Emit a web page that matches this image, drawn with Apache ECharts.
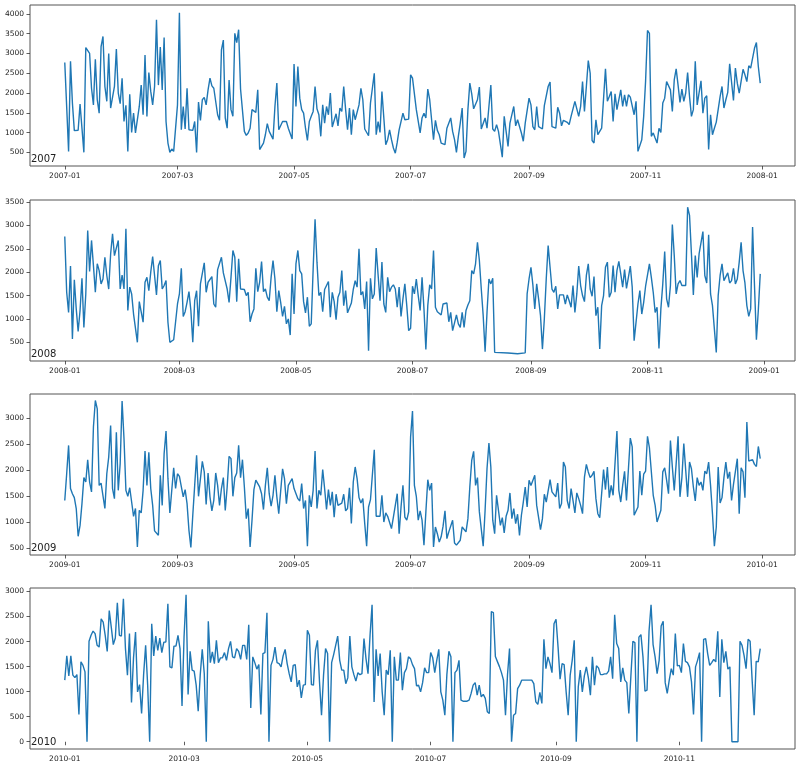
<!DOCTYPE html>
<html><head><meta charset="utf-8">
<script src="https://cdn.jsdelivr.net/npm/echarts@6/dist/echarts.min.js"></script>
<style>html,body{margin:0;padding:0;background:#fff}#c{width:800px;height:768px}</style>
</head><body><div id="c"></div>
<script>
const years = [2007, 2008, 2009, 2010];

const values2007 = [
2770,1650,525,2800,1745,1050,1050,1060,1720,1730,
500,3150,3190,3000,2120,1700,2850,1830,1490,3170,
3430,2165,1790,3000,1620,1635,2165,3110,2000,1730,
2375,1280,1690,525,1970,1005,1490,990,1005,1660,
2200,1450,2960,1410,2520,2040,1700,2165,3850,2200,
3160,2080,3400,1280,735,500,585,525,530,1700,
4030,1070,1660,1090,2120,1070,1070,1055,1280,500,
1770,1310,1830,1890,1700,2080,2375,2180,2120,2150,
1450,1310,3090,3340,1370,1110,2330,1580,1410,3510,
3275,3600,2100,2065,1030,930,990,1110,1580,1535,
1510,2080,570,570,735,945,1225,1030,1030,835,
1660,2250,1070,1050,1280,1280,1280,1110,1110,835,
2730,1660,2670,1870,1580,1490,1110,800,1280,1410,
1535,2165,1600,1450,905,1700,1240,1660,1450,2000,
1140,1140,1475,1170,1620,1535,2165,1580,1070,1620,
945,1580,1325,1280,1700,2120,1830,1090,1090,920,
1745,2120,2500,945,1280,1005,2040,2000,695,820,
1070,820,610,480,750,1070,1030,1490,1325,1325,
1340,2460,2375,2375,1580,1620,990,1370,1490,1370,
2100,1830,1790,820,1310,1055,945,735,735,695,
1110,1110,1370,1030,820,500,905,1240,1620,355,
525,1580,2250,1980,1600,1580,1830,2150,1090,1110,
1370,1110,1660,2200,1090,1030,1200,1030,1030,380,
1410,1370,650,1240,1200,1660,1170,1325,1280,990,
780,1240,1280,1870,1700,1150,1070,1660,1150,1170,
1090,1680,1700,2165,2275,1150,1140,1110,1640,1490,
1170,1310,1280,1260,1200,1410,1370,1790,1830,1410,
1660,2290,1535,2165,2820,2500,800,735,1325,945,
1030,1110,1150,2610,1790,1910,2040,1280,1980,1580,
1535,2080,1660,1955,1660,1955,1895,1870,1450,1790,
525,570,820,1410,2300,3580,3510,905,990,860,
735,1110,1005,1745,1870,2290,2250,2080,1535,2330,
2610,2200,1760,2100,1790,2000,2520,1910,1410,1580,
2800,1700,1745,2310,1490,1870,1930,570,1450,945,
1110,1265,1310,1910,2165,1620,1830,2015,2740,2750,
1810,2630,2250,2000,2015,2600,2460,2290,2690,2630,
2590,3130,3275,2670,2250
];

const values2008 = [
2765,1570,1140,2130,570,1840,1215,730,1180,1870,
820,1535,2890,2015,2680,2140,1570,2180,2035,1750,
1855,2320,1930,1640,2390,2820,2355,2320,2680,1640,
1940,1640,2930,1180,1680,1535,1105,1140,500,1370,
1340,930,1785,1890,1605,2000,2335,1930,1515,2140,
2250,1640,1715,1820,930,500,500,555,515,1320,
1535,2085,1055,1155,1355,1585,1180,500,1390,1605,
845,1750,1730,2200,1570,1785,1750,1905,1320,1250,
2055,2055,2320,1985,1985,1640,1355,1890,2465,2320,
1370,2285,1640,1655,1630,1500,1570,940,1105,1215,
2085,1585,1785,2230,1585,1640,1465,1390,1890,2250,
1855,1155,1605,1355,1055,1270,895,1000,655,1965,
1105,2180,2465,2035,1965,1370,1130,1465,845,895,
2070,3130,2215,1500,1570,1155,1630,1640,1800,1035,
1570,1370,985,1465,1570,2035,1285,1605,1130,1140,
1340,1630,1820,1680,2500,1515,1585,1215,1800,320,
1870,1430,1535,2515,1940,1390,2215,1320,1140,1890,
1585,1680,1730,1640,1250,1680,1055,1430,1750,1285,
750,800,1700,1535,1855,1500,1180,1890,1215,345,
1285,1730,1640,2465,1250,1155,1140,1085,1320,1285,
1340,940,1140,750,915,1085,895,820,1140,820,
1180,1300,1390,2035,1965,2180,2640,2250,1640,1070,
300,1140,1855,1750,1870,285,null,null,null,null,
null,null,270,null,null,null,null,255,null,null,
null,275,1535,1855,2105,1730,1215,1750,1430,1070,
355,1000,1855,2570,2105,1640,1570,1700,1215,1515,
1515,1515,1320,1515,1390,1250,1715,1140,1535,2130,
1715,1500,1370,1930,2180,1640,1485,1905,1070,1250,
355,1285,1500,2105,2215,1465,1570,2140,1570,2035,
2230,1965,1680,2055,1655,1890,2130,1680,535,535,
1320,1605,1105,1355,1700,1700,2180,1890,1570,1140,
1250,370,1215,1750,2440,1430,1250,1715,3020,2355,
1535,1750,1820,1715,1680,1715,3390,3215,2390,1515,
2355,1890,2390,2430,2870,1930,1770,2800,1535,1285,
1320,285,1500,1930,2180,1820,1820,1985,1770,1820,
2085,1750,1855,2215,2640,2035,1770,1285,1055,1215,
2965,1715,555,1180,1965
];

const values2009 = [
1420,1935,2480,1650,1550,1475,1265,730,940,1360,
1860,1775,2205,1775,1585,2835,3345,3185,1710,1755,
1745,1265,1935,2255,2865,1650,1455,2735,1615,2130,
3335,2610,1615,1500,1665,1390,1115,1265,525,1230,
1180,1615,2370,1710,2350,1650,1325,835,835,750,
1905,1325,2320,2755,1840,1180,1180,2050,1650,1935,
1885,1870,1490,1630,1360,845,515,1135,1710,2290,
1500,1475,2175,1970,1345,1950,1490,1220,1420,1950,
1710,1325,1650,1860,1230,1680,2270,2225,1500,1860,
1950,2480,1860,2205,1680,1070,1265,525,1040,1630,
1810,1775,1680,1550,1245,1710,2050,1550,1310,1520,
1905,1490,1165,1200,2030,1840,1360,1710,1690,1840,
1650,1650,1455,1410,1745,1265,1420,540,1520,1295,
1615,2370,1265,1615,1520,2015,1650,1245,1630,1325,
1585,1100,1540,1325,1360,1370,1540,1220,1265,1665,
975,1775,2065,1840,1475,1370,1455,975,540,1295,
1435,1435,2395,1115,1115,1115,1520,1005,1180,1115,
1115,880,1100,1070,1550,780,1295,1710,1100,1040,
1200,2640,3140,1710,1500,1040,1220,1040,560,1200,
1820,1615,1755,525,910,780,620,720,925,1220,
685,815,780,1040,600,560,560,655,910,925,
815,1070,1680,2190,2365,1710,1860,1200,1230,540,
1230,2030,2525,2065,1040,780,1520,1230,940,1090,
795,1115,1230,1565,1070,1265,975,1155,745,1135,
1390,1680,1295,1810,1710,1710,1905,1325,1325,860,
1070,1540,1390,1390,1820,1585,1585,1490,1755,1265,
1360,2160,2065,1420,1265,1650,1420,1180,1565,1455,
1325,1165,1870,2115,1970,1860,1905,1980,1455,1165,
1090,1100,2015,1630,2065,1475,1710,1520,1540,2755,
1615,1390,1710,1980,1420,2015,2620,2450,1135,1135,
1295,1985,1520,1925,1985,2655,2435,2460,1520,1325,
1005,975,1230,1970,2050,1810,1550,2575,2065,1615,
2130,2655,1490,1860,2515,2480,1490,2160,2030,1680,
1410,1860,1710,1775,1615,1985,1935,2160,1710,1165,
540,910,2065,1370,1475,1860,2160,1840,1970,1420,
1730,1755,2225,1165,2050,1970,1475,2930,2180,2205,
2205,2115,2075,2460,2225
];

const values2010 = [
1230,1715,1315,1715,1330,1280,1340,545,1595,1525,
1395,0,2005,2125,2210,2160,1925,1890,2455,2390,
2125,1805,2620,2290,1940,2070,2775,2125,2110,2855,
1870,1330,2160,785,1675,2190,995,1140,565,1340,
1925,1130,0,2355,1715,2110,1825,2070,1780,1990,
1990,2755,1495,1475,1910,1910,2125,1860,715,2090,
2935,945,1805,1430,1410,1130,610,1330,1845,1360,
0,2405,1580,1795,1560,2025,1580,1675,1675,1780,
1625,1860,2005,1695,1675,1860,1805,1645,1925,1925,
1645,2335,675,1695,1580,1450,1540,545,1760,1780,
2575,0,1525,1645,1890,1580,1560,1495,1715,1845,
1560,1360,1195,1525,1540,1095,1230,875,1130,1140,
2225,2125,1140,1130,1825,2025,1195,530,1330,1860,
1760,0,1580,1740,1925,2110,1625,1430,1430,1160,
1275,2110,1495,1340,1210,1380,1340,1360,2060,1660,
1360,2125,2735,795,1845,1315,1760,995,530,1430,
1340,1825,0,1695,1230,1230,1780,1030,1380,1460,
1695,1660,1540,1460,1115,1130,995,1180,1475,1380,
1380,1780,1675,1380,1625,1845,995,830,530,1340,
1805,1695,0,1380,1430,1625,830,810,810,810,
830,965,1130,1180,930,1130,895,945,865,600,
565,2600,2580,1700,1600,1500,1380,1230,530,1340,
1860,0,530,565,1060,1130,1230,1230,1230,1230,
1230,1230,1160,795,745,985,765,2045,1460,1695,
1560,1380,2355,2445,1890,1250,1560,1540,995,530,
1330,1625,2025,0,1095,1430,995,1315,1495,1275,
930,1695,1130,1515,1475,1340,1340,1355,1355,1410,
1695,1260,2535,1960,1860,1195,1475,1230,1180,565,
1295,2005,1980,0,2090,2140,1695,1010,1030,2205,
2735,1940,1695,1360,1625,2310,2405,1180,965,1230,
1460,1330,2160,1515,1525,1380,1960,1605,1580,1495,
1195,545,1495,1625,1780,0,2045,2060,1760,1525,
1580,1645,1595,2205,895,2045,1580,1805,1450,1495,
0,0,0,0,2005,1925,1725,1460,2045,2005,
1230,530,1605,1595,1860
];

const yTicks2007 = [500, 1000, 1500, 2000, 2500, 3000, 3500, 4000];
const yTicks2008 = [500, 1000, 1500, 2000, 2500, 3000, 3500];
const yTicks2009 = [500, 1000, 1500, 2000, 2500, 3000];
const yTicks2010 = [0, 500, 1000, 1500, 2000, 2500, 3000];
const xTickMonths = [1, 3, 5, 7, 9, 11, 13];

const allValues = [values2007, values2008, values2009, values2010];
const allYTicks = [yTicks2007, yTicks2008, yTicks2009, yTicks2010];

// layout
const yRanges = [[155, 4225], [100, 3545], [370, 3470], [-145, 3070]];
const tops = [5, 200, 394, 588];
const gridH = 161;
const FONT = 'DejaVu Sans';

function fmt(v) {
  const d = new Date(v);
  return d.getUTCFullYear() + '-' + String(d.getUTCMonth() + 1).padStart(2, '0');
}

const grids = [], xAxes = [], yAxes = [], series = [], graphics = [];
years.forEach((yr, k) => {
  const vals = allValues[k];
  const data = vals.map((v, i) => [Date.UTC(yr, 0, 1 + i), v]);
  const t0 = data[0][0], t1 = data[data.length - 1][0];
  const span = t1 - t0;
  const xmin = t0 - 0.05 * span, xmax = t1 + 0.05 * span;
  const xt = xTickMonths.map(m => Date.UTC(yr, m - 1, 1)).filter(t => t >= xmin && t <= xmax);
  grids.push({ left: 30, right: 5, top: tops[k], height: gridH, show: true, borderColor: '#555', borderWidth: 1, backgroundColor: 'transparent' });
  xAxes.push({
    type: 'value', gridIndex: k, min: xmin, max: xmax,
    axisLine: { show: false },
    splitLine: { show: false },
    axisTick: { show: true, length: 3.5, lineStyle: { color: '#333', width: 0.8 }, customValues: xt },
    axisLabel: { customValues: xt, formatter: fmt, fontSize: 7.5, color: '#222', fontFamily: FONT, margin: 6 }
  });
  yAxes.push({
    type: 'value', gridIndex: k, min: yRanges[k][0], max: yRanges[k][1],
    axisLine: { show: false },
    splitLine: { show: false },
    axisTick: { show: true, length: 3.5, lineStyle: { color: '#333', width: 0.8 }, customValues: allYTicks[k] },
    axisLabel: { customValues: allYTicks[k], formatter: v => String(v), fontSize: 7.5, color: '#222', fontFamily: FONT, margin: 6 }
  });
  series.push({
    type: 'line', xAxisIndex: k, yAxisIndex: k, data: data,
    showSymbol: false, connectNulls: true,
    lineStyle: { color: '#1f77b4', width: 1.4 },
    itemStyle: { color: '#1f77b4' }
  });
  graphics.push({
    type: 'text', left: 31, top: tops[k] + gridH - 12,
    style: { text: String(yr), fontSize: 10, fontFamily: FONT, fill: '#222' }
  });
});

const chart = echarts.init(document.getElementById('c'), null, { renderer: 'canvas' });
chart.setOption({
  animation: false,
  backgroundColor: '#fff',
  grid: grids, xAxis: xAxes, yAxis: yAxes, series: series,
  graphic: graphics
});
</script></body></html>
